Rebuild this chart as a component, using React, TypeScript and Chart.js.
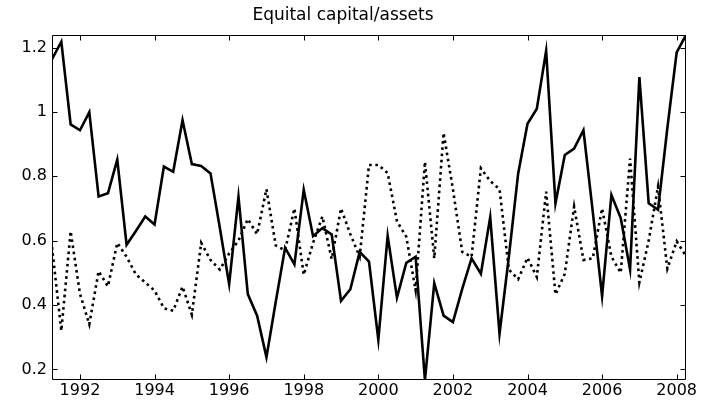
import React, { useEffect, useRef } from "react";
import { Chart, registerables } from "chart.js";

Chart.register(...registerables);

const TITLE = "Equital capital/assets";

// Quarterly dates (decimal years)
const quarters: number[] = [
  1991.25, 1991.5, 1991.75, 1992.0, 1992.25, 1992.5, 1992.75, 1993.0,
  1993.25, 1993.5, 1993.75, 1994.0, 1994.25, 1994.5, 1994.75, 1995.0,
  1995.25, 1995.5, 1995.75, 1996.0, 1996.25, 1996.5, 1996.75, 1997.0,
  1997.25, 1997.5, 1997.75, 1998.0, 1998.25, 1998.5, 1998.75, 1999.0,
  1999.25, 1999.5, 1999.75, 2000.0, 2000.25, 2000.5, 2000.75, 2001.0,
  2001.25, 2001.5, 2001.75, 2002.0, 2002.25, 2002.5, 2002.75, 2003.0,
  2003.25, 2003.5, 2003.75, 2004.0, 2004.25, 2004.5, 2004.75, 2005.0,
  2005.25, 2005.5, 2005.75, 2006.0, 2006.25, 2006.5, 2006.75, 2007.0,
  2007.25, 2007.5, 2007.75, 2008.0, 2008.25,
];

// Solid series
const solidSeries: number[] = [
  1.164, 1.218, 0.961, 0.943, 0.999, 0.737, 0.747, 0.852,
  0.587, 0.63, 0.675, 0.65, 0.83, 0.814, 0.974, 0.838,
  0.832, 0.809, 0.64, 0.465, 0.737, 0.434, 0.367, 0.238,
  0.41, 0.578, 0.526, 0.758, 0.614, 0.639, 0.619, 0.413,
  0.449, 0.565, 0.535, 0.292, 0.615, 0.423, 0.531, 0.55,
  0.167, 0.468, 0.367, 0.347, 0.45, 0.545, 0.497, 0.673,
  0.311, 0.55, 0.809, 0.963, 1.01, 1.19, 0.716, 0.866,
  0.886, 0.943, 0.69, 0.428, 0.742, 0.67, 0.511, 1.108,
  0.716, 0.696, 0.95, 1.185, 1.239,
];

// Dotted series
const dottedSeries: number[] = [
  0.58, 0.32, 0.629, 0.435, 0.34, 0.505, 0.458, 0.593,
  0.55, 0.495, 0.47, 0.445, 0.39, 0.382, 0.457, 0.37,
  0.593, 0.54, 0.51, 0.56, 0.6, 0.667, 0.62, 0.76,
  0.585, 0.57, 0.7, 0.494, 0.593, 0.675, 0.543, 0.7,
  0.62, 0.55, 0.835, 0.835, 0.81, 0.66, 0.612, 0.446,
  0.845, 0.545, 0.935, 0.76, 0.565, 0.55, 0.825, 0.785,
  0.76, 0.51, 0.48, 0.547, 0.487, 0.752, 0.433, 0.497,
  0.706, 0.54, 0.545, 0.7, 0.55, 0.5, 0.855, 0.47,
  0.6, 0.768, 0.513, 0.598, 0.552,
];

const xTickValues: number[] = [1992, 1994, 1996, 1998, 2000, 2002, 2004, 2006, 2008];
const yTickValues: number[] = [0.2, 0.4, 0.6, 0.8, 1.0, 1.2];

const X_MIN = 1991.25;
const X_MAX = 2008.25;
const Y_MIN = 0.167;
const Y_MAX = 1.239;

const FONT = "'DejaVu Sans', Arial, sans-serif";

const boxAndTicks = {
  id: "boxAndTicks",
  afterDraw(chart: any) {
    const { ctx, chartArea: a, scales } = chart;
    const xs = scales.x;
    const ys = scales.y;
    const L = Math.round(a.left) + 0.5;
    const R = Math.round(a.right) - 0.5;
    const T = Math.round(a.top) + 0.5;
    const B = Math.round(a.bottom) - 0.5;
    const len = 5;
    ctx.save();
    ctx.strokeStyle = "#000";
    ctx.lineWidth = 1;
    ctx.beginPath();
    ctx.rect(L, T, R - L, B - T);
    for (const v of xTickValues) {
      const px = Math.round(xs.getPixelForValue(v)) + 0.5;
      ctx.moveTo(px, B);
      ctx.lineTo(px, B - len);
      ctx.moveTo(px, T);
      ctx.lineTo(px, T + len);
    }
    for (const v of yTickValues) {
      const py = Math.round(ys.getPixelForValue(v)) + 0.5;
      ctx.moveTo(L, py);
      ctx.lineTo(L + len, py);
      ctx.moveTo(R, py);
      ctx.lineTo(R - len, py);
    }
    ctx.stroke();
    ctx.restore();
  },
};

export default function App() {
  const canvasRef = useRef<HTMLCanvasElement | null>(null);

  useEffect(() => {
    document.body.style.margin = "0";
    const canvas = canvasRef.current;
    if (!canvas) return;
    const chart = new Chart(canvas, {
      type: "line",
      data: {
        datasets: [
          {
            label: "solid",
            data: quarters.map((q, i) => ({ x: q, y: solidSeries[i] })),
            borderColor: "#000",
            borderWidth: 2.6,
            pointRadius: 0,
            tension: 0,
            fill: false,
            borderJoinStyle: "miter",
          },
          {
            label: "dotted",
            data: quarters.map((q, i) => ({ x: q, y: dottedSeries[i] })),
            borderColor: "#000",
            borderWidth: 2.6,
            borderDash: [2.6, 3.6],
            borderCapStyle: "butt",
            pointRadius: 0,
            tension: 0,
            fill: false,
          },
        ],
      },
      options: {
        animation: false,
        responsive: false,
        devicePixelRatio: 1,
        layout: { padding: { left: 0, right: 15, top: 0, bottom: 0 } },
        plugins: {
          legend: { display: false },
          tooltip: { enabled: false },
          title: {
            display: true,
            text: TITLE,
            color: "#000",
            font: { family: FONT, size: 17, weight: "normal" },
            padding: { top: 5, bottom: 9.6 },
          },
        },
        scales: {
          x: {
            type: "linear",
            min: X_MIN,
            max: X_MAX,
            grid: { display: false, drawTicks: false },
            border: { display: false },
            ticks: {
              color: "#000",
              font: { family: FONT, size: 16 },
              padding: 1,
              maxRotation: 0,
              autoSkip: false,
              callback: (v: any) => String(v),
            },
            afterBuildTicks: (s: any) => {
              s.ticks = xTickValues.map((v) => ({ value: v }));
            },
            afterFit: (s: any) => {
              s.height = 31;
            },
          },
          y: {
            type: "linear",
            min: Y_MIN,
            max: Y_MAX,
            grid: { display: false, drawTicks: false },
            border: { display: false },
            ticks: {
              color: "#000",
              font: { family: FONT, size: 16 },
              padding: 5,
              autoSkip: false,
              callback: (v: any) => String(Math.round(Number(v) * 10) / 10),
            },
            afterBuildTicks: (s: any) => {
              s.ticks = yTickValues.map((v) => ({ value: v }));
            },
            afterFit: (s: any) => {
              s.width = 52;
            },
          },
        },
      },
      plugins: [boxAndTicks],
    });
    return () => chart.destroy();
  }, []);

  return (
    <div style={{ position: "absolute", left: 0, top: 0, width: 701, height: 411, background: "#fff" }}>
      <canvas ref={canvasRef} width={701} height={411} />
    </div>
  );
}
